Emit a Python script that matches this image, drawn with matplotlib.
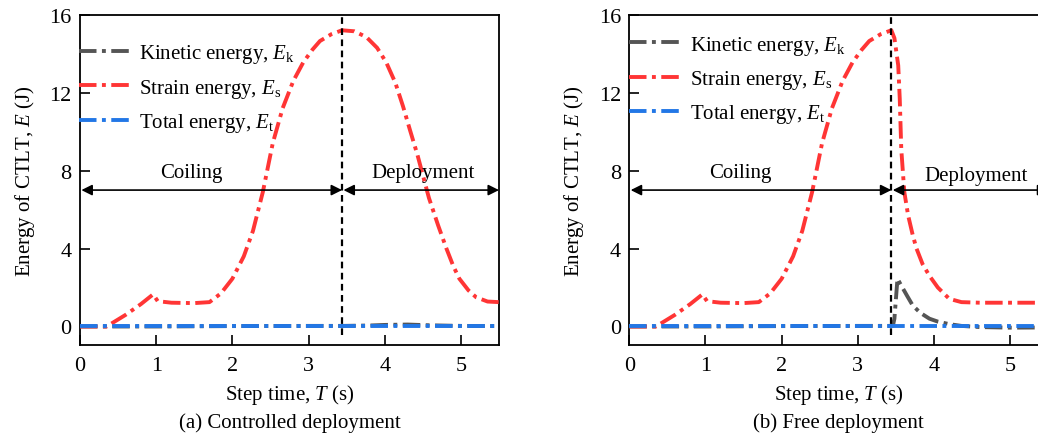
import matplotlib
matplotlib.use("Agg")
import matplotlib.pyplot as plt
import numpy as np

plt.rcParams['font.family'] = ['Liberation Serif', 'DejaVu Serif']
plt.rcParams['mathtext.fontset'] = 'custom'
plt.rcParams['mathtext.rm'] = 'Liberation Serif'
plt.rcParams['mathtext.it'] = 'Liberation Serif:italic'

# ---- data ----
coil_t = [0.0, 0.35, 0.6, 0.8, 0.96, 1.02, 1.2, 1.5, 1.7, 1.85, 2.0, 2.15, 2.27, 2.40,
          2.53, 2.66, 2.8, 2.93, 3.05, 3.15, 3.3, 3.44]
coil_es = [0.0, 0.0, 0.6, 1.15, 1.65, 1.3, 1.22, 1.2, 1.25, 1.7, 2.45, 3.6, 4.9, 6.9,
           9.4, 11.2, 12.6, 13.55, 14.2, 14.65, 15.0, 15.2]

dep_a_t = [3.44, 3.6, 3.76, 3.9, 4.02, 4.14, 4.24, 4.33, 4.43, 4.58, 4.7, 4.81, 4.9,
           4.98, 5.1, 5.2, 5.35, 5.5]
dep_a_es = [15.2, 15.15, 14.85, 14.3, 13.55, 12.5, 11.3, 10.1, 8.8, 6.6, 5.2, 4.0, 3.1,
            2.45, 1.85, 1.5, 1.28, 1.25]

dep_b_t = [3.44, 3.48, 3.53, 3.55, 3.57, 3.61, 3.66, 3.72, 3.77, 3.85, 3.94, 4.05,
           4.2, 4.36, 4.6, 5.0, 5.5]
dep_b_es = [15.2, 14.8, 13.4, 11.7, 9.1, 6.9, 5.7, 4.7, 4.0, 3.2, 2.6, 2.0,
            1.42, 1.25, 1.22, 1.22, 1.22]

ek_a_t = [0.0, 1.0, 2.0, 3.0, 3.44, 3.8, 4.0, 4.3, 4.6, 5.0, 5.5]
ek_a = [0.0, 0.0, 0.02, 0.03, 0.03, 0.05, 0.08, 0.1, 0.06, 0.03, 0.02]

ek_b_t = [0.0, 1.0, 2.0, 3.0, 3.46, 3.48, 3.52, 3.57, 3.65, 3.72, 3.82, 3.94, 4.05,
          4.2, 4.36, 4.6, 5.0, 5.5]
ek_b = [0.0, 0.0, 0.02, 0.03, 0.03, 0.4, 2.45, 2.1, 1.55, 1.08, 0.7, 0.4, 0.25,
        0.12, 0.03, -0.03, -0.06, -0.05]

et_t = [0.0, 5.5]
et = [0.0, 0.0]

switch_t = 3.44
arrow_y = 7.0
xticks = [0, 1, 2, 3, 4, 5]
yticks = [0, 4, 8, 12, 16]

c_k = '#555555'
c_s = '#ff3535'
c_t = '#2277e6'
ls = (0, (4.5, 1.4, 1.0, 1.4))
lw = 2.8

fig = plt.figure(figsize=(10.38, 4.35), dpi=100)
W, H = 1038, 435
axw = 419 / W
axh = 330.3 / H
bot = 1 - 346 / H
ax_a = fig.add_axes([80 / W, bot, axw, axh])
ax_b = fig.add_axes([629.3 / W, bot, axw, axh])

panels = [
    (ax_a, ek_a_t, ek_a, dep_a_t, dep_a_es, '(a) Controlled deployment', 4.5, 7.9, 0.917, -0.003),
    (ax_b, ek_b_t, ek_b, dep_b_t, dep_b_es, '(b) Free deployment', 4.55, 7.75, 0.943, 0.0),
]

for ax, kt, kv, dt, dv, cap, dep_x, dep_y, leg_y, leg_x in panels:
    st = coil_t + dt[1:]
    sv = coil_es + dv[1:]
    ax.plot(kt, kv, color=c_k, lw=lw, ls=ls, label=r'Kinetic energy, $\mathit{E}_{\rm k}$', zorder=3)
    ax.plot(st, sv, color=c_s, lw=lw, ls=ls, label=r'Strain energy, $\mathit{E}_{\rm s}$', zorder=3)
    ax.plot(et_t, et, color=c_t, lw=lw, ls=ls, label=r'Total energy, $\mathit{E}_{\rm t}$', zorder=4)
    ax.set_xlim(0, 5.5)
    ax.set_ylim(-0.95, 16)
    ax.set_xticks(xticks)
    ax.set_yticks(yticks)
    ax.tick_params(direction='in', length=7, width=1.2, labelsize=16, pad=6)
    ax.tick_params(axis='x', pad=8)
    for sp in ax.spines.values():
        sp.set_linewidth(1.3)
    ax.axvline(switch_t, ymin=0.03, ymax=1.0, color='black', ls=(0, (3, 2)), lw=1.6, zorder=5)
    ax.annotate('', xy=(0, arrow_y), xytext=(switch_t, arrow_y),
                arrowprops=dict(arrowstyle='<|-|>', color='black', lw=1.2,
                                mutation_scale=16, shrinkA=0, shrinkB=1))
    ax.annotate('', xy=(switch_t, arrow_y), xytext=(5.5, arrow_y),
                arrowprops=dict(arrowstyle='<|-|>', color='black', lw=1.2,
                                mutation_scale=16, shrinkA=0, shrinkB=1))
    ax.text(1.46, 7.9, 'Coiling', ha='center', va='center', fontsize=15)
    ax.text(dep_x, dep_y, 'Deployment', ha='center', va='center', fontsize=15)
    ax.set_xlabel(r'Step time, $\mathit{T}$ (s)', fontsize=15, labelpad=5)
    ax.set_ylabel(r'Energy of CTLT, $\mathit{E}$ (J)', fontsize=15, labelpad=9)
    ax.text(0.5, -0.233, cap, transform=ax.transAxes, ha='center', va='center', fontsize=15)
    ax.legend(loc='upper left', bbox_to_anchor=(leg_x, leg_y), frameon=False, fontsize=15,
              handlelength=2.6, handletextpad=0.3, labelspacing=0.55, borderpad=0,
              borderaxespad=0)

fig.savefig('out.png', dpi=100)
